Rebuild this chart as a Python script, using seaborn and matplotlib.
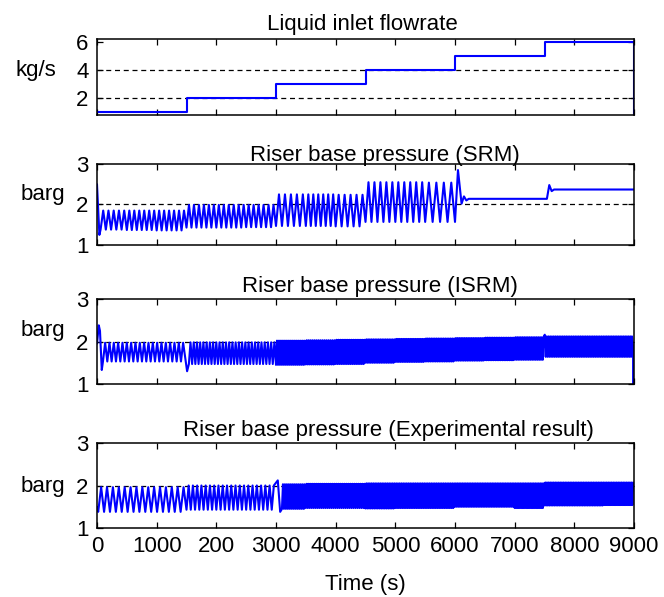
import numpy as np
import pandas as pd
import matplotlib
matplotlib.use("Agg")
import matplotlib.pyplot as plt
import seaborn as sns

# ---------------- data ----------------
# Liquid inlet flowrate (kg/s), step changes
flow_t = [0, 1500, 3000, 4500, 6000, 7500, 9000, 9000]
flow_v = [1, 2, 3, 4, 5, 6, 6, 0.79]

# Riser base pressure (SRM): oscillating segments (start, end, cycles, trough, peak)
srm_seg_start = [60, 500, 1000, 1500, 2000, 2500, 3000, 3500, 4000, 4500, 5000, 5500]
srm_seg_end = [500, 1000, 1500, 2000, 2500, 3000, 3500, 4000, 4500, 5000, 5500, 6000]
srm_seg_cycles = [5, 6, 6, 6, 6, 6, 5, 6, 5, 5, 5, 4]
srm_seg_low = [1.38, 1.37, 1.36, 1.43, 1.43, 1.44, 1.47, 1.47, 1.46, 1.57, 1.57, 1.57]
srm_seg_high = [1.85, 1.85, 1.85, 1.99, 1.99, 1.99, 2.25, 2.25, 2.24, 2.55, 2.55, 2.54]
# SRM transient points
srm_tr_t = [0, 40, 6000, 6050, 6110, 6150, 6190, 6230, 7500, 7540, 7580, 7620, 7660, 9000]
srm_tr_v = [2.5, 1.25, 1.57, 2.85, 2.02, 2.2, 2.1, 2.14, 2.14, 2.14, 2.48, 2.33, 2.37, 2.37]

# Riser base pressure (ISRM)
isrm_seg_start = [100, 1540, 3000, 3500, 4000, 4500, 5000, 5500, 6000, 6500, 7000,
                  7520, 8000, 8500]
isrm_seg_end = [1480, 3000, 3500, 4000, 4500, 5000, 5500, 6000, 6500, 7000, 7500,
                8000, 8500, 8980]
isrm_seg_cycles = [19, 27, 15, 15, 16, 17, 17, 17, 17, 17, 17, 16, 17, 17]
isrm_seg_low = [1.53, 1.47, 1.45, 1.46, 1.47, 1.50, 1.52, 1.53, 1.55, 1.56, 1.57,
                1.64, 1.64, 1.64]
isrm_seg_high = [1.97, 1.98, 2.02, 2.03, 2.04, 2.05, 2.06, 2.07, 2.08, 2.09, 2.1,
                 2.12, 2.12, 2.12]
isrm_tr_t = [0, 30, 50, 80, 1510, 7505, 8985, 8985]
isrm_tr_v = [1.95, 2.38, 2.25, 1.33, 1.3, 2.16, 1.88, 1.0]

# Riser base pressure (Experimental result)
exp_seg_start = [20, 1500, 3100, 3500, 4000, 4500, 5000, 5500, 6000, 6500, 7000,
                 7500, 8000, 8500]
exp_seg_end = [1500, 3000, 3500, 4000, 4500, 5000, 5500, 6000, 6500, 7000, 7500,
               8000, 8500, 9000]
exp_seg_cycles = [15, 21, 12, 15, 15, 17, 17, 17, 18, 18, 18, 18, 18, 18]
exp_seg_low = [1.38, 1.43, 1.45, 1.47, 1.47, 1.46, 1.47, 1.47, 1.50, 1.50, 1.47,
               1.53, 1.53, 1.54]
exp_seg_high = [1.96, 2.0, 2.03, 2.04, 2.04, 2.05, 2.05, 2.05, 2.05, 2.05, 2.05,
                2.07, 2.07, 2.07]
exp_tr_t = [0, 3030, 3070]
exp_tr_v = [1.5, 2.12, 1.38]

titles = ["Liquid inlet flowrate", "Riser base pressure (SRM)",
          "Riser base pressure (ISRM)", "Riser base pressure (Experimental result)"]
ylabels = ["kg/s", "barg", "barg", "barg"]
xtick_vals = [0, 1000, 2000, 3000, 4000, 5000, 6000, 7000, 8000, 9000]
xtick_labels = ["0", "1000", "200", "3000", "4000", "5000", "6000", "7000", "8000", "9000"]


def build_series(starts, ends, cycles, lows, highs, tr_t, tr_v):
    t, v = list(tr_t), list(tr_v)
    for s, e, n, lo, hi in zip(starts, ends, cycles, lows, highs):
        tt = np.linspace(s, e, 2 * n, endpoint=False)
        t.extend(tt)
        v.extend([lo if k % 2 == 0 else hi for k in range(2 * n)])
    t = np.asarray(t, float)
    v = np.asarray(v, float)
    order = np.argsort(t, kind="stable")
    return pd.DataFrame({"t": t[order], "v": v[order]})


flow_df = pd.DataFrame({"t": flow_t, "v": flow_v})
srm_df = build_series(srm_seg_start, srm_seg_end, srm_seg_cycles, srm_seg_low,
                      srm_seg_high, srm_tr_t, srm_tr_v)
isrm_df = build_series(isrm_seg_start, isrm_seg_end, isrm_seg_cycles, isrm_seg_low,
                       isrm_seg_high, isrm_tr_t, isrm_tr_v)
exp_df = build_series(exp_seg_start, exp_seg_end, exp_seg_cycles, exp_seg_low,
                      exp_seg_high, exp_tr_t, exp_tr_v)

# ---------------- drawing ----------------
sns.set_theme(style="ticks")
plt.rcParams["font.family"] = ["Liberation Sans", "DejaVu Sans"]
plt.rcParams["axes.edgecolor"] = "black"
plt.rcParams["text.color"] = "black"
plt.rcParams["axes.labelcolor"] = "black"
plt.rcParams["xtick.color"] = "black"
plt.rcParams["ytick.color"] = "black"
FS = 16

fig = plt.figure(figsize=(6.64, 5.97), dpi=100)
FW, FH = 664.0, 597.0
left, right = 97, 634
boxes = [(39, 115), (164, 245), (299, 384), (443, 528)]
axes = [fig.add_axes([left / FW, 1 - b / FH, (right - left) / FW, (b - t) / FH])
        for t, b in boxes]

frames = [flow_df, srm_df, isrm_df, exp_df]
ylims = [(0.79, 6.21), (1, 3), (1, 3), (1, 3)]
yticks = [[2, 4, 6], [1, 2, 3], [1, 2, 3], [1, 2, 3]]
grid_vals = [[2, 4], [2], [2], [2]]
title_x = [0.495, 0.536, 0.526, 0.542]
title_gap_px = [9, 3, 7, 7]          # baseline distance above top spine
ylabel_x = [-0.114, -0.10, -0.10, -0.10]
ylabel_y = [0.59, 0.62, 0.635, 0.49]

for i, (ax, df) in enumerate(zip(axes, frames)):
    if i == 0:
        sns.lineplot(data=df, x="t", y="v", ax=ax, color="#0000ff", linewidth=1.5,
                     estimator=None, sort=False, drawstyle="steps-post")
    else:
        sns.lineplot(data=df, x="t", y="v", ax=ax, color="#0000ff", linewidth=1.5,
                     estimator=None, sort=False)
    ax.set_xlim(0, 9000)
    ax.set_ylim(*ylims[i])
    ax.set_yticks(yticks[i])
    ax.set_xticks(xtick_vals)
    ax.grid(False)
    for g in grid_vals[i]:
        ax.axhline(g, color="black", linewidth=0.9, linestyle=(0, (4, 3)), zorder=1)
    for sp in ax.spines.values():
        sp.set_visible(True)
        sp.set_color("black")
        sp.set_linewidth(1.1)
        sp.set_zorder(5)
    ax.tick_params(direction="in", length=4, width=0.9, top=True, right=True,
                   labelsize=FS, colors="black", labelcolor="black", pad=6)
    h_px = boxes[i][1] - boxes[i][0]
    ax.text(title_x[i], 1 + title_gap_px[i] / h_px, titles[i], transform=ax.transAxes,
            ha="center", va="baseline", fontsize=FS, color="black")
    ax.set_ylabel(ylabels[i], fontsize=FS, rotation=0, ha="center", va="center",
                  color="black")
    ax.yaxis.set_label_coords(ylabel_x[i], ylabel_y[i])
    if i < 3:
        ax.set_xticklabels([])
        ax.set_xlabel("")
    else:
        ax.set_xticklabels(xtick_labels)
        ax.set_xlabel("Time (s)", fontsize=FS, labelpad=12, color="black")

fig.savefig("out.png", dpi=100, facecolor="white")
